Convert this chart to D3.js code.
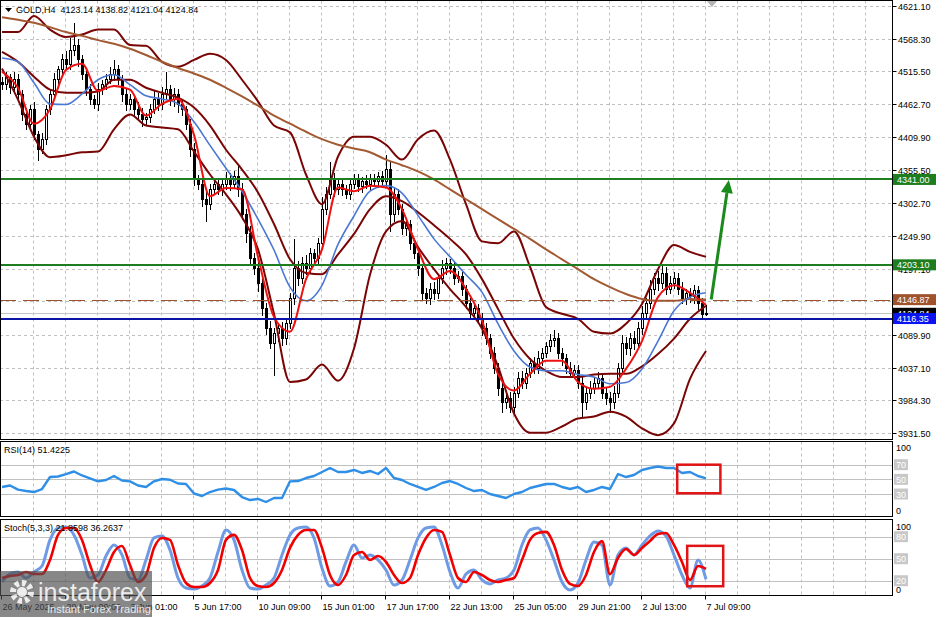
<!DOCTYPE html>
<html>
<head>
<meta charset="utf-8">
<script src="https://cdn.jsdelivr.net/npm/d3@7"></script>
<style>
body { margin: 0; background: #fff; }
svg { display: block; font-family: "Liberation Sans", Arial, sans-serif; }
</style>
</head>
<body>
<div id="chart"></div>
<script>
// ---- data (H4 bars) ----
var symbol = "GOLD,H4";
var firstOpen = 4498;
var closes = [
  4494,4505,4489,4502,4478,4446,4430,4454,
  4414,4390,4406,4454,4478,4502,4518,4534,
  4526,4550,4558,4534,4510,4486,4470,4462,
  4486,4494,4502,4510,4518,4502,4478,4462,
  4470,4454,4446,4438,4441,4454,4470,4462,
  4478,4486,4470,4478,4462,4454,4430,4390,
  4341,4333,4309,4301,4325,4333,4325,4333,
  4341,4333,4345,4325,4285,4253,4213,4197,
  4173,4132,4100,4076,4092,4100,4084,4108,
  4148,4197,4181,4205,4197,4221,4213,4237,
  4293,4317,4341,4325,4333,4325,4317,4333,
  4341,4329,4338,4333,4341,4337,4345,4338,
  4357,4285,4317,4293,4261,4269,4237,4221,
  4197,4156,4148,4164,4156,4181,4197,4205,
  4197,4181,4184,4164,4140,4124,4132,4116,
  4100,4084,4060,4036,4004,3980,3988,3972,
  3996,4020,4012,4028,4044,4036,4052,4060,
  4071,4081,4084,4060,4052,4036,4028,4033,
  4012,3980,3996,4004,4012,4020,3996,3988,
  3980,3996,4036,4076,4068,4084,4076,4100,
  4124,4140,4164,4181,4173,4189,4164,4173,
  4181,4164,4148,4156,4152,4161,4140,4123.14,
  4124.84
];
// wick length above the body / below the body
var wickUp = [
  8,10,6,12,9,7,10,8,
  12,6,10,8,9,11,7,10,
  14,20,36,10,8,6,9,7,
  10,8,9,12,16,8,7,10,
  9,8,12,10,7,9,14,10,
  12,29,8,10,9,7,6,8,
  10,7,9,12,8,10,9,8,
  12,10,9,17,10,8,12,9,
  11,8,10,12,9,7,10,8,
  9,48,12,10,14,9,8,10,
  20,12,28,10,8,9,7,10,
  8,9,7,10,8,9,8,10,
  24,12,10,9,8,10,7,9,
  10,8,9,10,12,8,14,9,
  8,10,9,8,7,10,9,8,
  10,9,8,10,9,12,8,10,
  9,10,12,8,9,10,12,9,
  8,10,14,9,8,7,10,9,
  8,10,9,12,8,10,9,8,
  10,12,8,14,10,9,12,10,
  12,10,14,9,12,15,10,12,
  10,9,12,8,10,9,8,10,
  13.98
];
var wickDn = [
  9,8,10,7,12,10,9,11,
  10,20,8,10,9,7,8,10,
  8,9,10,12,8,10,9,8,
  10,9,8,7,10,9,12,10,
  9,10,8,12,10,9,8,10,
  9,8,10,12,14,10,9,12,
  10,9,12,29,10,8,9,10,
  9,10,8,12,10,14,12,10,
  14,12,10,9,52,14,12,10,
  9,10,12,9,10,8,12,9,
  10,9,8,12,9,10,8,9,
  8,9,10,8,9,8,10,9,
  10,29,12,10,9,12,10,9,
  12,10,8,9,10,8,9,10,
  9,10,8,12,9,10,8,9,
  12,10,9,10,12,17,9,8,
  10,8,9,10,8,9,10,12,
  8,9,10,9,12,10,8,9,
  10,25,12,10,9,8,10,12,
  17,10,8,9,10,12,10,9,
  10,8,9,10,12,9,10,8,
  9,10,8,9,10,12,10,9,
  2.1
];

// indicator lines, one value every 4 bars
var maStep = 4;
var maFast = [4515,4489,4431,4454,4518,4528,4484,4492,4486,4444,4463,4471,4413,4314,4327,4325,4216,4119,4095,4180,4228,4328,4322,4331,4328,4293,4228,4180,4193,4164,4113,4027,4000,4027,4048,4048,4014,4003,4006,4035,4080,4151,4170,4158,4138];
var maMid = [4537,4531,4497,4463,4462,4479,4502,4510,4494,4476,4471,4463,4434,4396,4359,4322,4277,4227,4167,4145,4170,4236,4282,4322,4331,4319,4283,4245,4216,4187,4159,4108,4064,4038,4032,4032,4026,4022,4011,4013,4035,4080,4129,4151,4158];
var maSlow = [4603,4599,4594,4587,4579,4573,4566,4560,4552,4542,4531,4521,4512,4502,4489,4475,4460,4444,4431,4418,4406,4397,4391,4385,4373,4364,4354,4341,4325,4309,4293,4277,4261,4245,4228,4212,4196,4180,4167,4156,4148,4145,4145,4148,4147];
var bbUpper = [4579,4579,4605,4583,4571,4575,4583,4583,4558,4557,4531,4523,4534,4544,4534,4502,4467,4428,4417,4349,4301,4378,4410,4410,4397,4373,4406,4420,4373,4301,4241,4238,4257,4200,4135,4124,4116,4095,4092,4108,4140,4196,4235,4224,4216];
var bbMiddle = [4547,4531,4507,4486,4481,4481,4483,4502,4502,4489,4481,4473,4457,4428,4389,4357,4320,4269,4212,4190,4188,4220,4253,4293,4314,4306,4288,4267,4245,4220,4180,4132,4084,4051,4032,4022,4022,4026,4027,4027,4039,4059,4084,4116,4137];
var bbLower = [4520,4470,4410,4377,4380,4385,4386,4422,4446,4428,4425,4422,4386,4349,4317,4280,4228,4124,4014,4018,4042,4016,4068,4187,4257,4274,4232,4196,4164,4135,4100,4039,3963,3932,3932,3942,3955,3958,3966,3958,3939,3928,3947,4019,4064];

// oscillators, one value every 2 bars
var oscStep = 2;
var rsi = [39.6,41.6,35.9,34.1,32.7,36.8,53.2,53.9,57.0,60.7,55.3,51.2,47.3,49.1,54.6,48.4,47.3,41.6,39.6,47.3,50.5,49.5,44.3,43.7,30.7,27.3,32.7,35.9,37.5,35.5,25.9,21.8,23.2,19.1,24.6,24.6,47.3,47.7,
  51.8,54.6,60.0,65.5,60.0,60.0,62.8,58.7,61.4,57.3,
  65.5,51.8,49.1,43.7,39.6,35.5,39.6,45.0,47.7,43.7,
  38.2,34.1,35.5,30.0,27.3,24.6,30.0,32.7,38.2,40.9,
  43.7,43.7,39.6,36.8,39.6,32.7,35.5,39.6,36.8,57.3,
  53.2,55.9,62.8,65.5,67.5,65.5,65.5,58.7,60.0,54.6,
  51.4225];
var stochK = [18.3,29.2,31.9,23.7,31.9,40.1,75.6,91.9,93.3,82.4,55.1,23.7,27.8,53.7,68.7,55.1,23.7,21.0,48.3,78.3,81.0,61.9,23.7,10.1,8.7,12.8,23.7,59.2,89.2,75.6,34.6,10.1,8.7,14.2,23.7,55.1,82.4,91.9,
  93.3,78.3,37.4,12.8,18.3,45.6,68.7,51.0,55.1,48.3,
  34.6,14.2,21.0,48.3,78.3,91.9,93.3,68.7,31.9,10.1,
  29.2,34.6,21.0,15.6,21.0,23.7,34.6,68.7,89.2,91.9,
  75.6,48.3,18.3,7.4,16.9,48.3,72.8,68.7,14.2,55.1,
  64.7,55.1,68.7,81.0,87.8,81.0,55.1,27.8,10.1,48.3,
  21.8598];
var stochD = [23.7,26.5,27.8,31.9,29.2,29.2,48.3,82.4,91.9,91.9,75.6,41.5,18.3,34.6,59.2,67.4,41.5,18.3,27.8,64.7,78.3,75.6,41.5,16.9,11.5,11.5,16.9,34.6,75.6,82.4,61.9,23.7,12.8,11.5,16.9,34.6,64.7,82.4,
  89.2,89.2,64.7,27.8,14.2,27.8,55.1,59.2,48.3,53.7,
  45.6,27.8,16.9,23.7,55.1,78.3,89.2,86.5,55.1,23.7,
  18.3,31.9,27.8,21.0,18.3,21.0,23.7,48.3,75.6,85.1,
  86.5,68.7,34.6,15.6,12.8,27.8,59.2,74.0,29.0,51.0,
  63.3,55.1,64.7,74.2,83.7,85.1,68.7,45.6,21.0,40.1,
  36.2637];

// axis labels
var priceTicks = [4621.10,4568.30,4515.50,4462.70,4409.90,4355.50,4302.70,4249.90,4197.10,4144.30,4089.90,4037.10,3984.30,3931.50];
var timeLabels = ["26 May 2025","29 May 09:00","3 Jun 01:00","5 Jun 17:00","10 Jun 09:00","15 Jun 01:00","17 Jun 17:00","22 Jun 13:00","25 Jun 05:00","29 Jun 21:00","2 Jul 13:00","7 Jul 09:00"];
var barsPerLabel = 16;

// horizontal levels drawn on the chart
var levels = [
  { price: 4341.00, color: "#1e7d1e", width: 2, dash: null },
  { price: 4203.10, color: "#1e7d1e", width: 2, dash: null },
  { price: 4146.87, color: "#a0522d", width: 1, dash: "16,7" },
  { price: 4116.35, color: "#0a14a6", width: 2, dash: null }
];
var arrowFrom = { bar: 177.3, price: 4147 };
var arrowTo = { bar: 181.7, price: 4340 };
var rsiBox = { bar0: 168.8, bar1: 179.6, v0: 31, v1: 70 };
var stochBox = { bar0: 171.3, bar1: 180.3, v0: 12.5, v1: 67.5 };

// ---- layout ----
var width = 939, height = 617;
var plotRight = 892.5;
var mainP = { top: 0.5, bottom: 439.5 };
var rsiP = { top: 441.5, bottom: 516.5 };
var stoP = { top: 519.5, bottom: 595.5 };

var svg = d3.select('#chart').append('svg')
  .attr('width', width).attr('height', height);

var x = d3.scaleLinear().domain([0, 176]).range([2, 706]);
var yP = d3.scaleLinear().domain([3931.5, 4621.1]).range([433, 6]);
var yR = d3.scaleLinear().domain([0, 100]).range([516, 442.7]);
var yS = d3.scaleLinear().domain([0, 100]).range([595.4, 522]);

var bars = closes.map(function(c, i) {
  var o = i === 0 ? firstOpen : closes[i - 1];
  return { i: i, o: o, c: c, h: Math.max(o, c) + wickUp[i], l: Math.min(o, c) - wickDn[i] };
});

var defs = svg.append('defs');
defs.append('clipPath').attr('id', 'clipMain').append('rect')
  .attr('x', 0).attr('y', mainP.top).attr('width', plotRight).attr('height', mainP.bottom - mainP.top);
defs.append('clipPath').attr('id', 'clipRsi').append('rect')
  .attr('x', 0).attr('y', rsiP.top).attr('width', plotRight).attr('height', rsiP.bottom - rsiP.top);
defs.append('clipPath').attr('id', 'clipSto').append('rect')
  .attr('x', 0).attr('y', stoP.top).attr('width', plotRight).attr('height', stoP.bottom - stoP.top);

// vertical dashed grid, every 8 bars, across all panels
var gridX = d3.range(1, 30).map(function(k) { return Math.round(x(k * 8)) - 0.5; })
  .filter(function(v) { return v < plotRight - 2; });
[mainP, rsiP, stoP].forEach(function(p) {
  svg.append('g').selectAll('line').data(gridX).enter().append('line')
    .attr('x1', function(d) { return d; }).attr('x2', function(d) { return d; })
    .attr('y1', p.top).attr('y2', p.bottom)
    .attr('stroke', '#c0c0c0').attr('stroke-dasharray', '3,3');
});

// horizontal dashed grid in the price panel
svg.append('g').selectAll('line').data(priceTicks).enter().append('line')
  .attr('x1', 0).attr('x2', plotRight)
  .attr('y1', function(d) { return Math.round(yP(d)) + 0.5; })
  .attr('y2', function(d) { return Math.round(yP(d)) + 0.5; })
  .attr('stroke', '#c0c0c0').attr('stroke-dasharray', '3,3');

// oscillator levels
[70, 50, 30].forEach(function(v) {
  svg.append('line').attr('x1', 0).attr('x2', plotRight)
    .attr('y1', Math.round(yR(v)) + 0.5).attr('y2', Math.round(yR(v)) + 0.5)
    .attr('stroke', '#c0c0c0');
});
[80, 50, 20].forEach(function(v) {
  svg.append('line').attr('x1', 0).attr('x2', plotRight)
    .attr('y1', Math.round(yS(v)) + 0.5).attr('y2', Math.round(yS(v)) + 0.5)
    .attr('stroke', '#c0c0c0');
});

// ---- main panel ----
var main = svg.append('g').attr('clip-path', 'url(#clipMain)');

// current price line
main.append('line').attr('x1', 0).attr('x2', plotRight)
  .attr('y1', Math.round(yP(closes[closes.length - 1])) + 0.5)
  .attr('y2', Math.round(yP(closes[closes.length - 1])) + 0.5)
  .attr('stroke', '#c4c4c4');

// candles
var candle = main.append('g').attr('shape-rendering', 'crispEdges');
candle.selectAll('line.wick').data(bars).enter().append('line')
  .attr('class', 'wick')
  .attr('x1', function(d) { return x(d.i) + 0.5; }).attr('x2', function(d) { return x(d.i) + 0.5; })
  .attr('y1', function(d) { return yP(d.h); }).attr('y2', function(d) { return yP(d.l); })
  .attr('stroke', '#000');
candle.selectAll('rect').data(bars).enter().append('rect')
  .attr('x', function(d) { return x(d.i) - 0.5; })
  .attr('width', 2)
  .attr('y', function(d) { return yP(Math.max(d.o, d.c)); })
  .attr('height', function(d) { return Math.max(1, Math.abs(yP(d.o) - yP(d.c))); })
  .attr('fill', function(d) { return d.c >= d.o ? '#fff' : '#000'; })
  .attr('stroke', '#000');

function lineOf(step, scale) {
  return d3.line()
    .x(function(d, k) { return x(k * step); })
    .y(function(d) { return scale(d); })
    .curve(d3.curveMonotoneX);
}
var maLine = lineOf(maStep, yP);

[bbUpper, bbMiddle, bbLower].forEach(function(s) {
  main.append('path').attr('d', maLine(s)).attr('fill', 'none')
    .attr('stroke', '#7a0505').attr('stroke-width', 2);
});
main.append('path').attr('d', maLine(maSlow)).attr('fill', 'none')
  .attr('stroke', '#a35a32').attr('stroke-width', 2);
main.append('path').attr('d', maLine(maMid)).attr('fill', 'none')
  .attr('stroke', '#4a78d4').attr('stroke-width', 1.6);
main.append('path').attr('d', maLine(maFast)).attr('fill', 'none')
  .attr('stroke', '#ee1111').attr('stroke-width', 2);

// levels
levels.forEach(function(lv) {
  var yy = Math.round(yP(lv.price)) + (lv.width === 2 ? 0 : 0.5);
  main.append('line').attr('x1', 0).attr('x2', plotRight)
    .attr('y1', yy).attr('y2', yy)
    .attr('stroke', lv.color).attr('stroke-width', lv.width)
    .attr('stroke-dasharray', lv.dash);
});

// green arrow
var ax0 = x(arrowFrom.bar), ay0 = yP(arrowFrom.price);
var ax1 = x(arrowTo.bar), ay1 = yP(arrowTo.price);
var ang = Math.atan2(ay1 - ay0, ax1 - ax0);
var headLen = 13, headW = 6;
var bx = ax1 - headLen * Math.cos(ang), by = ay1 - headLen * Math.sin(ang);
main.append('line').attr('x1', ax0).attr('y1', ay0).attr('x2', bx).attr('y2', by)
  .attr('stroke', '#1a8a1a').attr('stroke-width', 3);
main.append('path')
  .attr('d', 'M' + ax1 + ',' + ay1 +
    'L' + (bx + headW * Math.sin(ang)) + ',' + (by - headW * Math.cos(ang)) +
    'L' + (bx - headW * Math.sin(ang)) + ',' + (by + headW * Math.cos(ang)) + 'Z')
  .attr('fill', '#1a8a1a');

// chart shift marker
svg.append('path').attr('d', 'M706,0L718,0L712,7Z').attr('fill', '#b4b4b4');

// ---- RSI panel ----
var oscLine = function(scale) {
  return d3.line().x(function(d, k) { return x(k * oscStep); }).y(function(d) { return scale(d); });
};
svg.append('g').attr('clip-path', 'url(#clipRsi)').append('path')
  .attr('d', oscLine(yR)(rsi)).attr('fill', 'none')
  .attr('stroke', '#2f8fe6').attr('stroke-width', 2.4).attr('stroke-linejoin', 'round');
svg.append('rect')
  .attr('x', x(rsiBox.bar0)).attr('y', yR(rsiBox.v1))
  .attr('width', x(rsiBox.bar1) - x(rsiBox.bar0)).attr('height', yR(rsiBox.v0) - yR(rsiBox.v1))
  .attr('fill', 'none').attr('stroke', '#e01414').attr('stroke-width', 2.5);

// ---- Stochastic panel ----
var sto = svg.append('g').attr('clip-path', 'url(#clipSto)');
sto.append('path').attr('d', oscLine(yS).curve(d3.curveMonotoneX)(stochK)).attr('fill', 'none')
  .attr('stroke', '#6e9be4').attr('stroke-width', 3).attr('stroke-linejoin', 'round');
sto.append('path').attr('d', oscLine(yS).curve(d3.curveMonotoneX)(stochD)).attr('fill', 'none')
  .attr('stroke', '#f00000').attr('stroke-width', 2.6).attr('stroke-linejoin', 'round');
svg.append('rect')
  .attr('x', x(stochBox.bar0)).attr('y', yS(stochBox.v1))
  .attr('width', x(stochBox.bar1) - x(stochBox.bar0)).attr('height', yS(stochBox.v0) - yS(stochBox.v1))
  .attr('fill', 'none').attr('stroke', '#e01414').attr('stroke-width', 2.5);

// ---- panel borders ----
[mainP, rsiP, stoP].forEach(function(p) {
  svg.append('rect').attr('x', 0.5).attr('y', p.top)
    .attr('width', plotRight - 0.5).attr('height', p.bottom - p.top)
    .attr('fill', 'none').attr('stroke', '#000');
});

// ---- right price axis ----
var axisG = svg.append('g').attr('font-size', 9);
priceTicks.forEach(function(t) {
  var yy = Math.round(yP(t)) + 0.5;
  axisG.append('line').attr('x1', plotRight).attr('x2', plotRight + 4).attr('y1', yy).attr('y2', yy).attr('stroke', '#000');
  axisG.append('text').attr('x', 898).attr('y', yy + 3.5).attr('fill', '#000').text(t.toFixed(2));
});
function priceTag(val, bg) {
  var yy = yP(val);
  axisG.append('rect').attr('x', 893).attr('y', yy - 5.5).attr('width', 43).attr('height', 11).attr('fill', bg);
  axisG.append('text').attr('x', 897).attr('y', yy + 3.5).attr('fill', '#fff').text(val.toFixed(2));
}
priceTag(closes[closes.length - 1], '#000');
priceTag(levels[2].price, levels[2].color);
priceTag(levels[3].price, '#0a14f0');
priceTag(levels[0].price, levels[0].color);
priceTag(levels[1].price, levels[1].color);

// oscillator axis labels
function oscAxis(scale, marks) {
  axisG.append('text').attr('x', 896).attr('y', scale(100) + 8).text('100');
  axisG.append('text').attr('x', 896).attr('y', scale(0) - 2).text('0');
  marks.forEach(function(v) {
    var yy = scale(v);
    axisG.append('rect').attr('x', 894).attr('y', yy - 5.5).attr('width', 14).attr('height', 11).attr('fill', '#c8c8c8');
    axisG.append('text').attr('x', 896).attr('y', yy + 3.5).attr('fill', '#fff').text(v);
  });
}
oscAxis(yR, [70, 50, 30]);
oscAxis(yS, [80, 50, 20]);

// ---- time axis ----
timeLabels.forEach(function(lab, k) {
  var xx = Math.round(x(k * barsPerLabel)) - 0.5;
  axisG.append('line').attr('x1', xx).attr('x2', xx).attr('y1', stoP.bottom).attr('y2', stoP.bottom + 4).attr('stroke', '#000');
  axisG.append('text').attr('x', xx + 1).attr('y', 610).attr('fill', '#000').text(lab);
});

// ---- titles ----
var last = bars[bars.length - 1];
svg.append('path').attr('d', 'M5,8L12,8L8.5,12Z').attr('fill', '#000');
svg.append('text').attr('x', 16).attr('y', 13).attr('font-size', 9).style('white-space', 'pre')
  .text(symbol + '  ' + [last.o, last.h, last.l, last.c].map(function(v) { return v.toFixed(2); }).join(' '));
svg.append('text').attr('x', 4).attr('y', 453).attr('font-size', 9)
  .text('RSI(14) ' + rsi[rsi.length - 1].toFixed(4));
svg.append('text').attr('x', 4).attr('y', 531).attr('font-size', 9)
  .text('Stoch(5,3,3) ' + stochK[stochK.length - 1].toFixed(4) + ' ' + stochD[stochD.length - 1].toFixed(4));

// ---- watermark ----
var wm = svg.append('g');
wm.append('rect').attr('x', 0).attr('y', 571).attr('width', 152).attr('height', 46).attr('fill', 'rgba(80,80,80,0.68)');
wm.append('circle').attr('cx', 22).attr('cy', 592).attr('r', 9)
  .attr('fill', 'none').attr('stroke', 'rgba(255,255,255,0.85)').attr('stroke-width', 6).attr('stroke-dasharray', '4,3');
wm.append('circle').attr('cx', 22).attr('cy', 592).attr('r', 5).attr('fill', 'rgba(255,255,255,0.85)');
wm.append('text').attr('x', 38).attr('y', 601).attr('font-size', 25).attr('fill', 'rgba(255,255,255,0.85)')
  .text('instaforex');
wm.append('text').attr('x', 47).attr('y', 613).attr('font-size', 11).attr('fill', 'rgba(255,255,255,0.85)')
  .text('Instant Forex Trading');
</script>
</body>
</html>
